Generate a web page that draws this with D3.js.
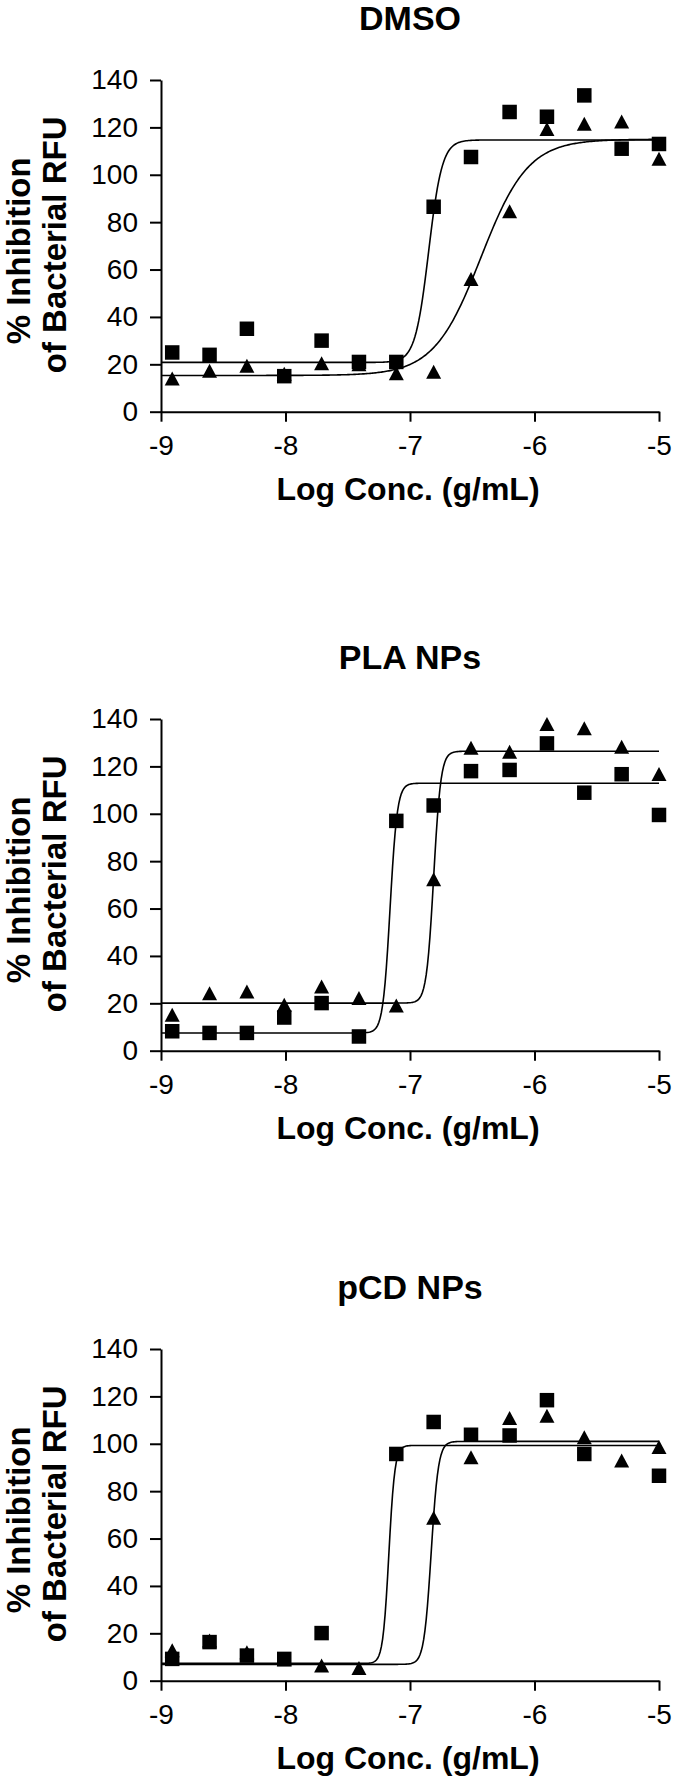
<!DOCTYPE html>
<html>
<head>
<meta charset="utf-8">
<script src="https://cdn.jsdelivr.net/npm/d3@7"></script>
<style>
  html, body { margin: 0; padding: 0; background: #fff; }
  svg { display: block; }
  text { font-family: "Liberation Sans", Arial, Helvetica, sans-serif; fill: #000; }
</style>
</head>
<body>
<svg id="chart" width="675" height="1781"></svg>
<script>
// ---------- DATA ----------
const panelTitles = ["DMSO", "PLA NPs", "pCD NPs"];
const logConc = [-8.91, -8.61, -8.31, -8.01, -7.71, -7.41, -7.11, -6.81, -6.51, -6.20, -5.90, -5.60, -5.30, -5.00];

// square series (one per panel)
const dmsoSquares = [25, 24, 35, 15, 30, 21, 21, 86.5, 107.5, 126.5, 124.5, 133.5, 111, 113];
const plaSquares  = [8.2, 7.5, 7.5, 14, 20.1, 6, 97, 103.5, 118, 118.5, 129.7, 108.9, 116.7, 99.5];
const pcdSquares  = [9.2, 16.3, 10.6, 9.2, 20.1, null, 95.7, 109.2, 103.8, 103.5, 118.4, 95.7, null, 86.5];

// triangle series (one per panel)
const dmsoTriangles = [14, 17.3, 19.4, 16, 20.4, 20, 16.2, 16.9, 56, 84.6, 119.3, 121.5, 122.5, 106.8];
const plaTriangles  = [15.2, 24.3, 25, 19.4, 27.1, 22.2, 19.1, 72.4, 127.9, 126.2, 137.9, 136.1, 128.3, 116.8];
const pcdTriangles  = [12.8, 17, 12, 9, 6.4, 5.4, null, 68.8, 94.3, 110.9, 111.8, 102.8, 92.9, 98.6];

// fitted 4-parameter logistic curves: [bottom, top, logEC50, hillSlope]
const dmsoSquareFit   = [20.8, 114.7, -6.85, 8];
const dmsoTriangleFit = [15.3, 115.0, -6.43, 2.3];
const plaSquareFit    = [7.5, 112.9, -7.16, 15];
const plaTriangleFit  = [20.1, 126.4, -6.81, 15];
const pcdSquareFit    = [7.3, 99.3, -7.17, 18];
const pcdTriangleFit  = [6.9, 101.0, -6.83, 15];

const xTicks = [-9, -8, -7, -6, -5];
const yTicks = [0, 20, 40, 60, 80, 100, 120, 140];
const xLabel = "Log Conc. (g/mL)";
const yLabelLines = ["% Inhibition", "of Bacterial RFU"];

// ---------- LAYOUT ----------
const panels = [
  { title: panelTitles[0], top: 80,   sq: dmsoSquares, tri: dmsoTriangles, sqFit: dmsoSquareFit, triFit: dmsoTriangleFit },
  { title: panelTitles[1], top: 719,  sq: plaSquares,  tri: plaTriangles,  sqFit: plaSquareFit,  triFit: plaTriangleFit },
  { title: panelTitles[2], top: 1349, sq: pcdSquares,  tri: pcdTriangles,  sqFit: pcdSquareFit,  triFit: pcdTriangleFit }
];
const plotLeft = 161, plotRight = 659, plotHeight = 331.7;

const svg = d3.select("#chart");

const x = d3.scaleLinear().domain([-9, -5]).range([plotLeft, plotRight]);

// centred triangle symbol (bbox centred on data point)
const triSymbol = {
  draw(ctx, size) {
    const w = 15, h = 14;
    ctx.moveTo(0, -h / 2);
    ctx.lineTo(w / 2, h / 2);
    ctx.lineTo(-w / 2, h / 2);
    ctx.closePath();
  }
};
const sqSymbol = {
  draw(ctx, size) {
    const s = 14.5;
    ctx.rect(-s / 2, -s / 2, s, s);
  }
};

function fourPL(p, lx) {
  const [b, t, ec, h] = p;
  return b + (t - b) / (1 + Math.pow(10, (ec - lx) * h));
}

panels.forEach(p => {
  const y = d3.scaleLinear().domain([0, 140]).range([p.top + plotHeight, p.top]);
  const g = svg.append("g");

  // title
  g.append("text")
    .attr("x", 410).attr("y", p.top - 50)
    .attr("text-anchor", "middle")
    .attr("font-size", 34).attr("font-weight", "bold")
    .text(p.title);

  // axes
  const xAxis = d3.axisBottom(x).tickValues(xTicks).tickSize(10).tickSizeOuter(0).tickPadding(13)
    .tickFormat(d => String(d));
  const yAxis = d3.axisLeft(y).tickValues(yTicks).tickSize(11).tickSizeOuter(0).tickPadding(12)
    .tickFormat(d => String(d));

  const gx = g.append("g").attr("transform", `translate(0,${p.top + plotHeight})`).call(xAxis);
  const gy = g.append("g").attr("transform", `translate(${plotLeft},0)`).call(yAxis);
  [gx, gy].forEach(a => {
    a.select(".domain").attr("stroke", "#000").attr("stroke-width", 2);
    a.selectAll(".tick line").attr("stroke", "#000").attr("stroke-width", 2);
    a.selectAll(".tick text").attr("font-size", 28).attr("fill", "#000")
      .attr("font-family", "'Liberation Sans', Arial, sans-serif");
  });

  // axis labels
  g.append("text")
    .attr("x", 408).attr("y", p.top + plotHeight + 88)
    .attr("text-anchor", "middle")
    .attr("font-size", 32).attr("font-weight", "bold")
    .text(xLabel);

  const yc = p.top + plotHeight / 2;
  const lineOffsets = [[30, yc + 5], [66, yc - 1]];
  yLabelLines.forEach((t, i) => {
    g.append("text")
      .attr("transform", `translate(0,${lineOffsets[i][1]}) rotate(-90)`)
      .attr("x", 0).attr("y", lineOffsets[i][0])
      .attr("text-anchor", "middle")
      .attr("font-size", 33).attr("font-weight", "bold")
      .text(t);
  });

  // fitted curves
  const xs = d3.range(0, 401).map(i => -9 + i * 4 / 400);
  const line = d3.line().x(d => x(d[0])).y(d => y(d[1]));
  [p.sqFit, p.triFit].forEach(fit => {
    g.append("path")
      .datum(xs.map(lx => [lx, fourPL(fit, lx)]))
      .attr("d", line)
      .attr("fill", "none").attr("stroke", "#000").attr("stroke-width", 1.6);
  });

  // points
  const triData = logConc.map((c, i) => [c, p.tri[i]]).filter(d => d[1] != null);
  const sqData = logConc.map((c, i) => [c, p.sq[i]]).filter(d => d[1] != null);

  g.selectAll(".tri").data(triData).enter().append("path")
    .attr("class", "tri")
    .attr("d", d3.symbol(triSymbol, 100))
    .attr("transform", d => `translate(${x(d[0])},${y(d[1])})`)
    .attr("fill", "#000");

  g.selectAll(".sq").data(sqData).enter().append("path")
    .attr("class", "sq")
    .attr("d", d3.symbol(sqSymbol, 100))
    .attr("transform", d => `translate(${x(d[0])},${y(d[1])})`)
    .attr("fill", "#000");
});
</script>
</body>
</html>
